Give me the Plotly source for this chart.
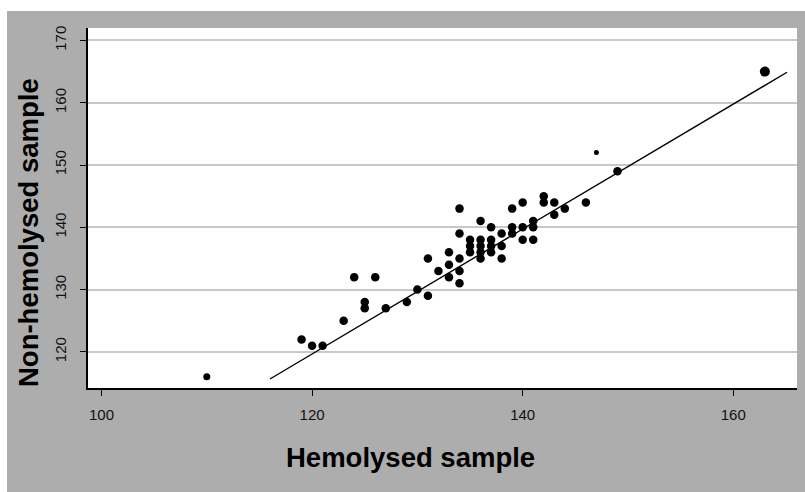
import plotly.graph_objects as go

# ---- data ----
hemolysed = [110, 119, 120, 121, 123, 124, 126, 125, 125, 127, 129, 130, 131, 131,
             132, 133, 133, 134, 133, 134, 134, 134, 134,
             135, 135, 135, 136, 136, 136, 136, 136,
             137, 137, 137, 137, 138, 138, 138,
             139, 139, 139, 140, 140, 140, 141, 141, 141,
             142, 142, 143, 143, 144, 146, 147, 149, 163]
non_hemolysed = [116, 122, 121, 121, 125, 132, 132, 128, 127, 127, 128, 130, 129, 135,
                 133, 134, 132, 131, 136, 133, 135, 139, 143,
                 138, 137, 136, 138, 137, 136, 135, 141,
                 140, 138, 137, 136, 139, 137, 135,
                 143, 140, 139, 144, 140, 138, 141, 140, 138,
                 145, 144, 144, 142, 143, 144, 152, 149, 165]

# fitted regression line
fit_slope = 1.003
fit_intercept = -0.7
fit_x_range = [116, 165.1]

x_ticks = [100, 120, 140, 160]
y_ticks = [120, 130, 140, 150, 160, 170]
x_title = "Hemolysed sample"
y_title = "Non-hemolysed sample"

# ---- styling ----
special_sizes = {(147, 152): 5, (163, 165): 10, (110, 116): 7}
sizes = [special_sizes.get((a, b), 8.5) for a, b in zip(hemolysed, non_hemolysed)]

fit_y = [fit_slope * v + fit_intercept for v in fit_x_range]

W, H = 805, 492
L, R, T, B = 88, 8, 28, 104
pw, ph = W - L - R, H - T - B

def px(xp):
    return (xp - L) / pw

def py(yp):
    return (H - B - yp) / ph

fig = go.Figure()
fig.add_trace(go.Scatter(x=fit_x_range, y=fit_y, mode="lines",
                         line=dict(color="black", width=1.4), hoverinfo="skip"))
fig.add_trace(go.Scatter(x=hemolysed, y=non_hemolysed, mode="markers",
                         marker=dict(color="black", size=sizes, opacity=1,
                                     line=dict(width=0))))

font_tick = dict(family="Liberation Sans, Arial", size=15, color="#111111")
title_font = dict(family="Liberation Sans, Arial", size=27.5, color="black", weight="bold")

fig.update_layout(
    width=W, height=H,
    margin=dict(l=L, r=R, t=T, b=B, pad=0),
    paper_bgcolor="#adadad",
    plot_bgcolor="white",
    showlegend=False,
    xaxis=dict(range=[98.72, 166.05], tickvals=x_ticks, showgrid=False, zeroline=False,
               showline=True, linecolor="black", linewidth=1.5,
               ticks="outside", ticklen=6, tickwidth=1.2, tickcolor="black",
               tickfont=font_tick, ticklabelstandoff=6),
    yaxis=dict(range=[114.2, 172.0], tickvals=y_ticks, showgrid=True,
               gridcolor="#c8c8c8", gridwidth=2, zeroline=False,
               showline=True, linecolor="black", linewidth=1.5,
               ticks="outside", ticklen=6, tickwidth=1.2, tickcolor="black",
               tickfont=font_tick, tickangle=-90, ticklabelstandoff=8),
    shapes=[
        dict(type="rect", xref="paper", yref="paper", x0=px(0), x1=px(W), y0=py(11), y1=py(0),
             fillcolor="white", line=dict(width=0), layer="below"),
        dict(type="rect", xref="paper", yref="paper", x0=px(0), x1=px(7), y0=py(H), y1=py(0),
             fillcolor="white", line=dict(width=0), layer="below"),
    ],
    annotations=[
        dict(text=x_title, xref="paper", yref="paper", x=px(410), y=py(457),
             xanchor="center", yanchor="middle", showarrow=False, font=title_font),
        dict(text=y_title, xref="paper", yref="paper", x=px(28), y=py(233),
             xanchor="center", yanchor="middle", showarrow=False, textangle=-90,
             font=title_font),
    ],
)

fig.write_html("out.html")
